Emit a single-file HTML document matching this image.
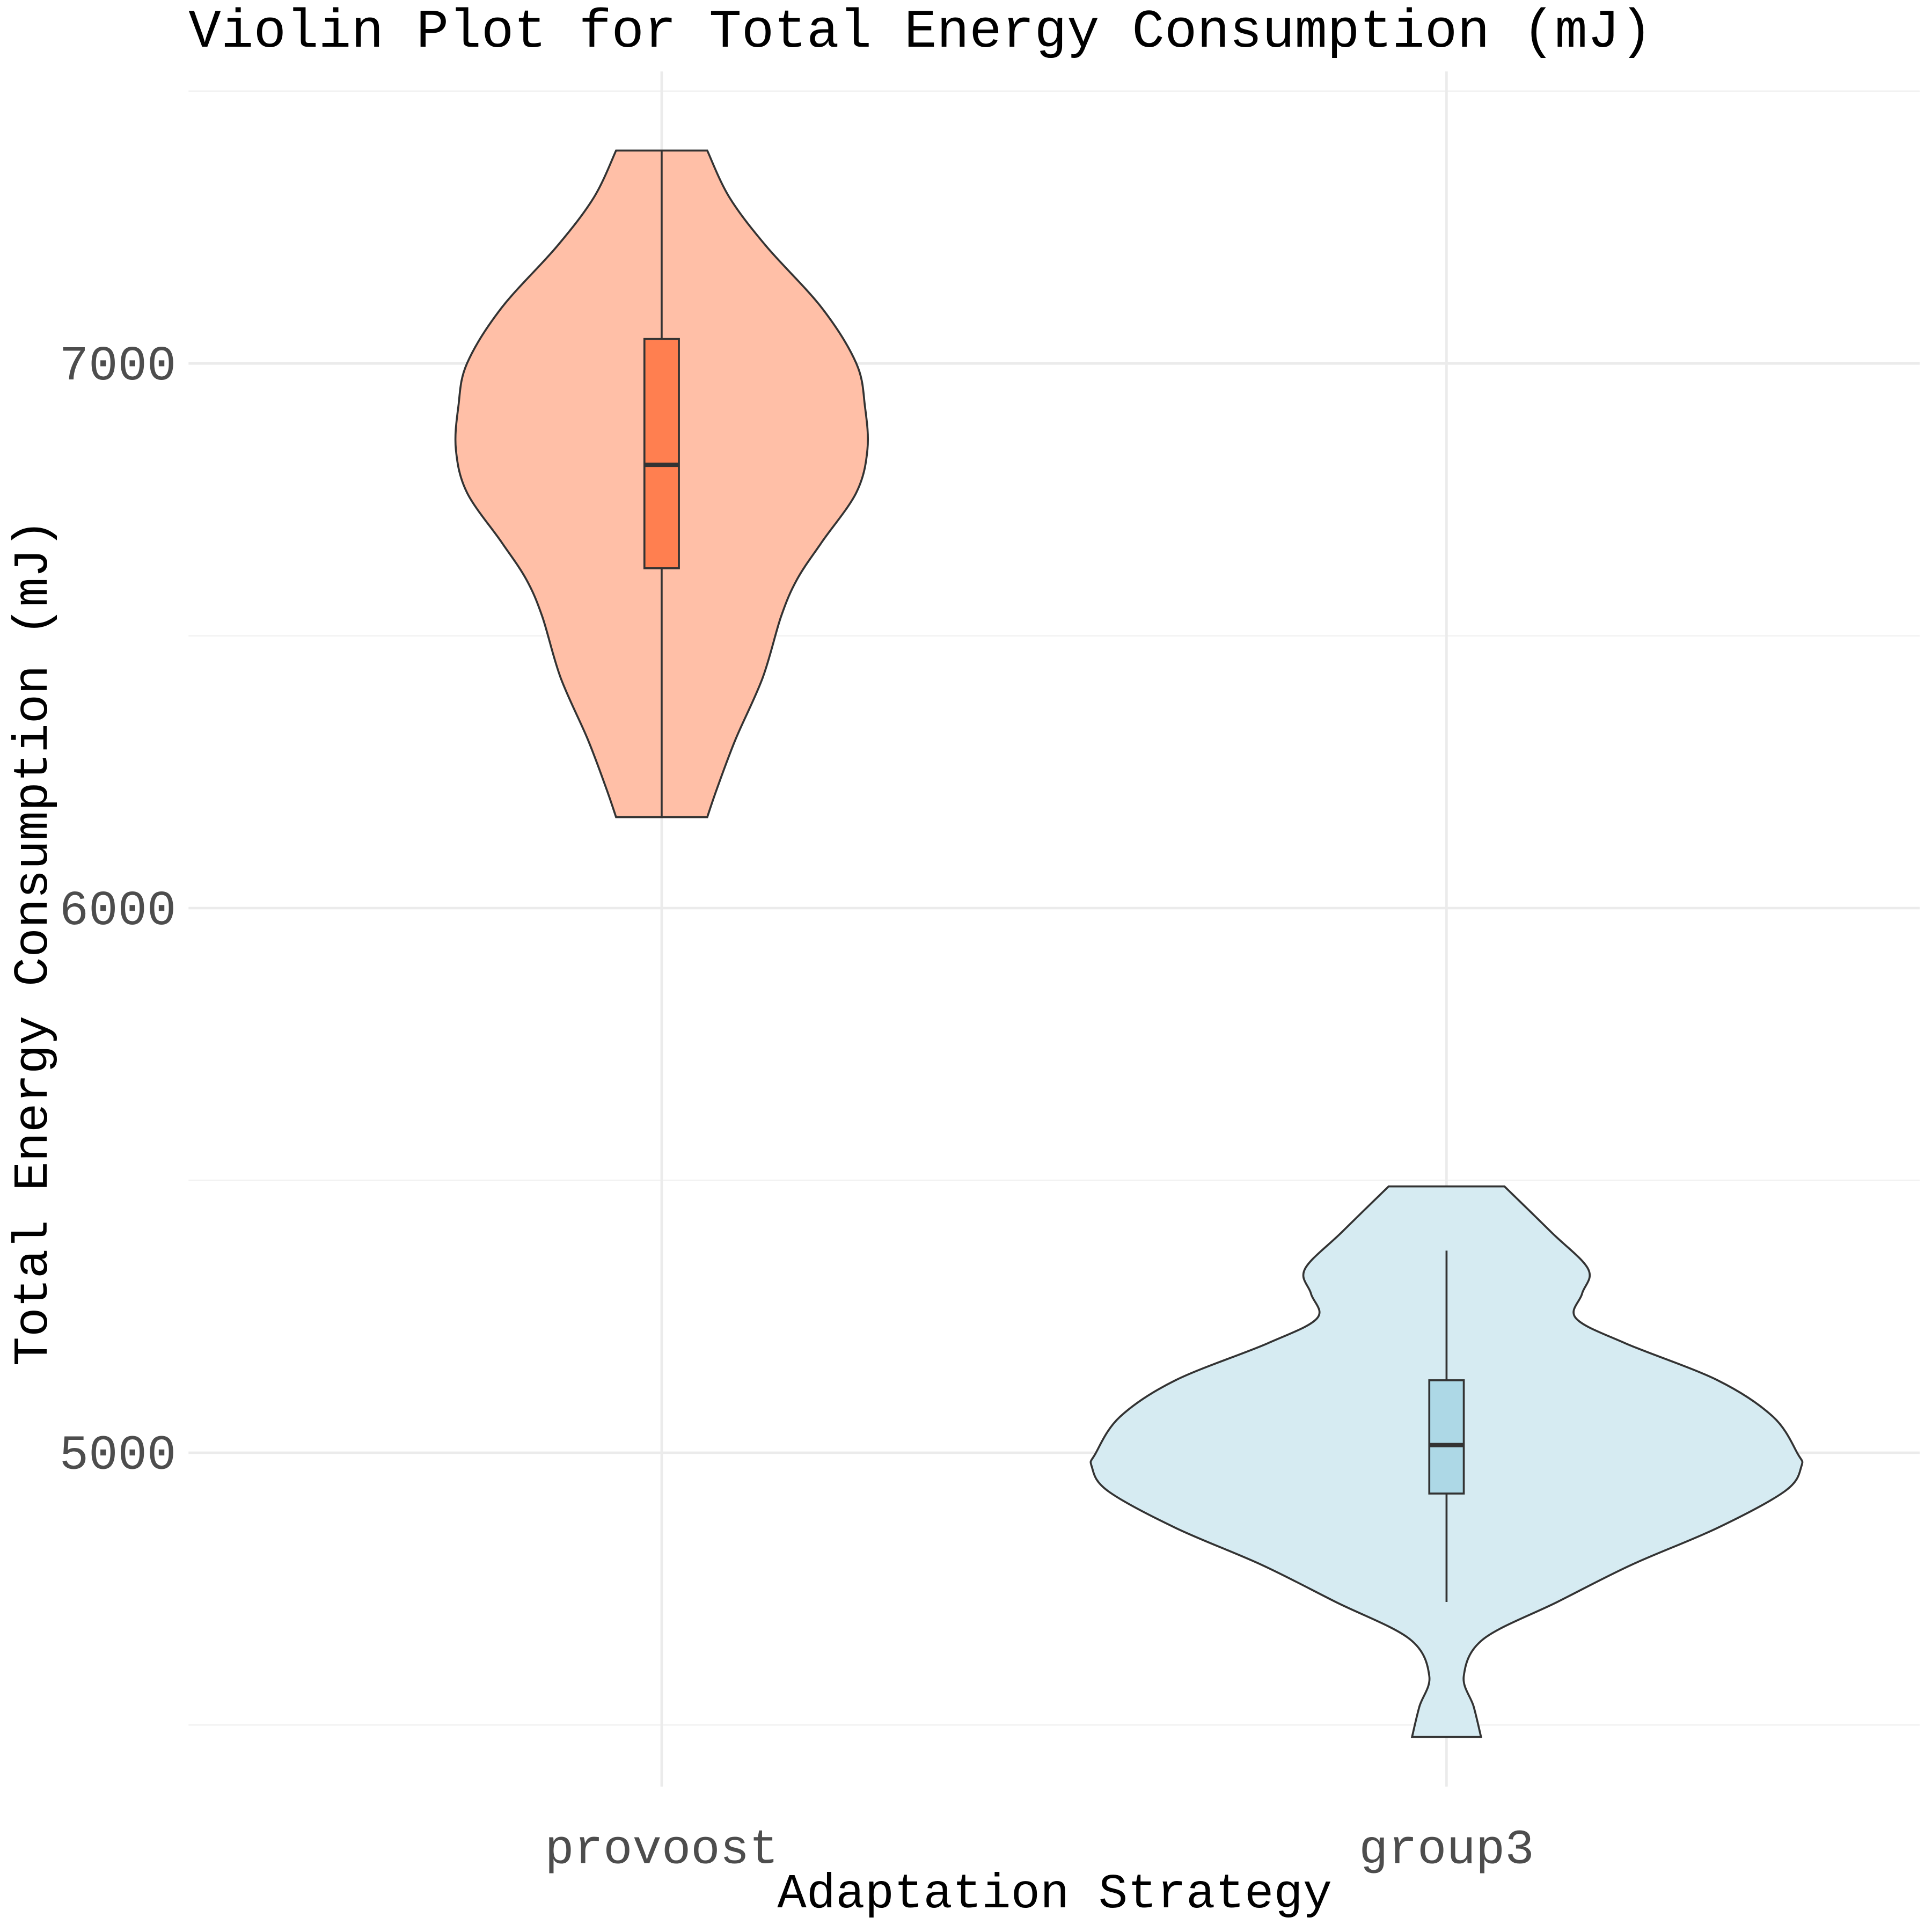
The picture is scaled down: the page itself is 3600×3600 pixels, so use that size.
<!DOCTYPE html>
<html><head><meta charset="utf-8"><style>
html,body{margin:0;padding:0;background:#fff}
svg{display:block}
text{font-family:"Liberation Mono",monospace}
</style></head><body>
<svg id="chart" width="3600" height="3600" viewBox="0 0 1568 1568" xmlns="http://www.w3.org/2000/svg">
<text x="153" y="38" font-size="44" fill="#000">Violin Plot for Total Energy Consumption (mJ)</text>
<g id="grid"></g>
<g id="marks"></g>
<g id="axes"></g>
<text x="856" y="1548" font-size="39.5" text-anchor="middle" fill="#000">Adaptation Strategy</text>
<text transform="translate(38,765) rotate(-90)" font-size="39.5" text-anchor="middle" fill="#000">Total Energy Consumption (mJ)</text>
</svg>
<script>
const categories = ["provoost", "group3"];
const yTicks = [5000, 6000, 7000];
const yMinor = [4500, 5500, 6500, 7500];
// violin density profiles: values (mJ) and relative half-widths
const provoostValues = [7391, 7305, 7215, 7102, 7000, 6921, 6842, 6763, 6672, 6604, 6536, 6423, 6310, 6220, 6167];
const provoostDensity = [37, 55, 85, 130, 158, 165, 167, 158, 130, 110, 97, 82, 60, 45, 37];
const group3Values = [5489, 5405, 5337, 5292, 5247, 5201, 5133, 5066, 4998, 4975, 4930, 4862, 4794, 4726, 4658, 4590, 4534, 4478];
const group3Density = [47, 85, 115, 110, 105, 145, 220, 265, 285, 288, 275, 220, 150, 90, 30, 14, 22, 28];
// box stats: [lowerWhisker, q1, median, q3, upperWhisker]
const provoostBox = [6167, 6624, 6814, 7045, 7391];
const group3Box = [4726, 4925, 5014, 5133, 5371];

const NS = "http://www.w3.org/2000/svg";
const panelL = 153, panelR = 1558, panelT = 58, panelB = 1450;
function yScale(v){ return 295 + (7000 - v) * 0.442; }
function xScale(i){ return 537 + i * 637; }
function mk(tag, attrs, parent){ const e=document.createElementNS(NS,tag); for(const k in attrs) e.setAttribute(k,attrs[k]); parent.appendChild(e); return e; }

const grid = document.getElementById('grid');
yMinor.forEach(v=>{ const l=mk('line',{x1:panelL,x2:panelR,y1:yScale(v),y2:yScale(v),stroke:'#F2F2F2','stroke-width':1.2},grid);

 });
yTicks.forEach(v=>{ const l=mk('line',{x1:panelL,x2:panelR,y1:yScale(v),y2:yScale(v),stroke:'#EBEBEB','stroke-width':2},grid);

 });
categories.forEach((c,i)=>{ const l=mk('line',{x1:xScale(i),x2:xScale(i),y1:panelT,y2:panelB,stroke:'#EBEBEB','stroke-width':2},grid);

 });

function smooth(pts){
  let d = "M"+pts[0][0]+","+pts[0][1];
  for(let i=0;i<pts.length-1;i++){
    const p0=pts[Math.max(0,i-1)], p1=pts[i], p2=pts[i+1], p3=pts[Math.min(pts.length-1,i+2)];
    const c1=[p1[0]+(p2[0]-p0[0])/6, p1[1]+(p2[1]-p0[1])/6];
    const c2=[p2[0]-(p3[0]-p1[0])/6, p2[1]-(p3[1]-p1[1])/6];
    d+=" C"+c1[0]+","+c1[1]+" "+c2[0]+","+c2[1]+" "+p2[0]+","+p2[1];
  }
  return d;
}
const marks = document.getElementById('marks');
const series = [
  {vals:provoostValues, dens:provoostDensity, box:provoostBox, fill:'#FFBFA7', boxFill:'#FF7F50'},
  {vals:group3Values, dens:group3Density, box:group3Box, fill:'#D6EBF2', boxFill:'#ADD8E6'}
];
series.forEach((s,i)=>{
  const cx = xScale(i);
  const right = s.vals.map((v,j)=>[cx+s.dens[j], yScale(v)]);
  const left = s.vals.map((v,j)=>[cx-s.dens[j], yScale(v)]).reverse();
  let d = smooth(right) + " L" + left[0][0]+","+left[0][1] + smooth(left).replace(/^M[^C]*/," ") + " Z";
  const p = mk('path',{d:d,fill:s.fill,stroke:'#333','stroke-width':1.6},marks);
  
  
  const w = mk('line',{x1:cx,x2:cx,y1:yScale(s.box[0]),y2:yScale(s.box[4]),stroke:'#333','stroke-width':1.6},marks);
  
  
  const b = mk('rect',{x:cx-14,y:yScale(s.box[3]),width:28,height:yScale(s.box[1])-yScale(s.box[3]),fill:s.boxFill,stroke:'#333','stroke-width':1.6},marks);
  
  
  const m = mk('line',{x1:cx-14,x2:cx+14,y1:yScale(s.box[2]),y2:yScale(s.box[2]),stroke:'#333','stroke-width':3.5},marks);
  
  
});
const axes = document.getElementById('axes');
yTicks.forEach(v=>{ const t=mk('text',{x:143,y:yScale(v)+13,'font-size':39.5,'text-anchor':'end',fill:'#4D4D4D'},axes); t.textContent=v;

 });
categories.forEach((c,i)=>{ const t=mk('text',{x:xScale(i),y:1512,'font-size':39.5,'text-anchor':'middle',fill:'#4D4D4D'},axes); t.textContent=c;

 });
</script>
</body></html>
